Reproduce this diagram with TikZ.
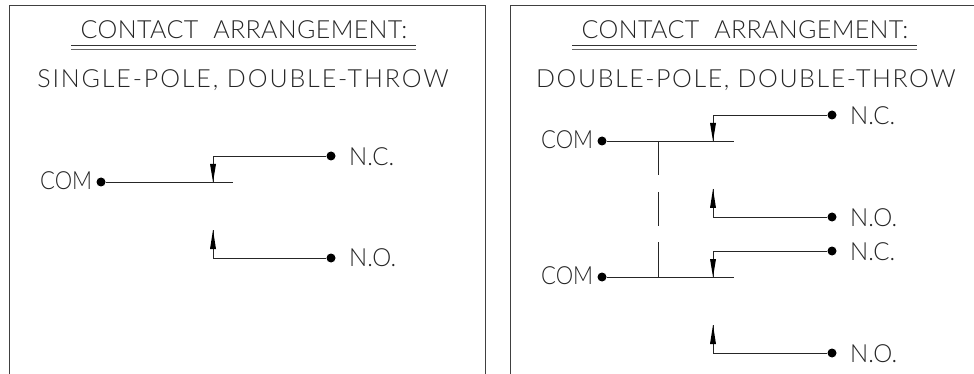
\documentclass[tikz,border=0pt]{standalone}
\usepackage{fontspec}
\setmainfont{Lato}[UprightFont=* Light]
\newcommand{\wgap}{\hspace{15pt}}
\begin{document}
\begin{tikzpicture}[x=1pt,y=-1pt,
  frameline/.style={draw=black!75,line width=0.9pt},
  wire/.style={draw=black!85,line width=0.9pt},
  rule/.style={draw=black!80,line width=0.9pt},
  thick rule/.style={draw=black!60,line width=1.6pt},
  terminal/.style={circle,fill=black,inner sep=0pt,minimum size=9pt},
  cadtext/.style={inner sep=0pt,font=\fontsize{25}{25}\selectfont\addfontfeature{LetterSpace=1.5},text=black!85},
  cadsub/.style={inner sep=0pt,font=\fontsize{25}{25}\selectfont\addfontfeature{LetterSpace=#1},text=black!85},
  cadlabel/.style={inner sep=0pt,font=\fontsize{25}{25}\selectfont\addfontfeature{FakeStretch=0.88},text=black!85},
  cadnote/.style={inner sep=0pt,font=\fontsize{25}{25}\selectfont\addfontfeature{FakeStretch=0.96},text=black!85},
  tip/.style={fill=black}]
\useasboundingbox (0,0) rectangle (974,374);
% frames
\draw[frameline] (9,374) -- (9,5) -- (485,5) -- (485,374);
\draw[frameline] (510,374) -- (510,5) -- (974,5);
% titles
\node[cadtext] (t1) at (244,30) {CONTACT\wgap ARRANGEMENT:};
\node[cadsub=7.5] (s1) at (243,80) {SINGLE-POLE, DOUBLE-THROW};
\node[cadtext] (t2) at (745,30) {CONTACT\wgap ARRANGEMENT:};
\node[cadsub=6.2] (s2) at (746,80) {DOUBLE-POLE, DOUBLE-THROW};
\draw[rule] (71,45) -- (416,45);
\draw[thick rule] (71,49.5) -- (416,49.5);
\draw[rule] (572,45) -- (917,45);
\draw[thick rule] (572,49.5) -- (917,49.5);
% left diagram
\node[terminal] (c1) at (101,182) {};
\node[terminal] (nc1) at (331,156) {};
\node[terminal] (no1) at (331,258) {};
\coordinate (e1) at (233,182);
\coordinate (v1) at (213,182);
\coordinate (k1) at (213,156);
\coordinate (n1) at (213,258);
\coordinate (a1) at (213,230);
\node[cadlabel,anchor=west] (lc1) at (40,181) {COM};
\node[cadnote,anchor=west] (ln1) at (349,157) {N.C.};
\node[cadnote,anchor=west] (lo1) at (349,258) {N.O.};
\draw[wire] (c1) -- (e1);
\draw[wire] (nc1) -- (k1) -- (v1);
\draw[wire] (no1) -- (n1) -- (a1);
\fill[tip] (v1) -- ++(-3,-18) -- ++(6,0) -- cycle;
\fill[tip] (a1) -- ++(-3,19) -- ++(6,0) -- cycle;
% right diagram
\node[terminal] (c2) at (602,141) {};
\node[terminal] (c3) at (602,277) {};
\node[terminal] (nc2) at (832,115) {};
\node[terminal] (no2) at (832,217) {};
\node[terminal] (nc3) at (832,251) {};
\node[terminal] (no3) at (832,353) {};
\node[cadlabel,anchor=west] (lc2) at (541,140) {COM};
\node[cadlabel,anchor=west] (lc3) at (541,276) {COM};
\node[cadnote,anchor=west] (ln2) at (850,116) {N.C.};
\node[cadnote,anchor=west] (lo2) at (850,218) {N.O.};
\node[cadnote,anchor=west] (ln3) at (850,252) {N.C.};
\node[cadnote,anchor=west] (lo3) at (850,354) {N.O.};
\coordinate (e2) at (734,141);
\coordinate (e3) at (734,277);
\coordinate (v2) at (713,141);
\coordinate (k2) at (713,115);
\coordinate (n2) at (713,217);
\coordinate (a2) at (713,189);
\coordinate (v3) at (713,277);
\coordinate (k3) at (713,251);
\coordinate (n3) at (713,353);
\coordinate (a3) at (713,325);
\coordinate (d1) at (658,141);
\coordinate (d2) at (658,175);
\coordinate (d3) at (658,192);
\coordinate (d4) at (658,226);
\coordinate (d5) at (658,242);
\coordinate (d6) at (658,277);
\draw[wire] (c2) -- (e2);
\draw[wire] (c3) -- (e3);
\draw[wire] (nc2) -- (k2) -- (v2);
\draw[wire] (no2) -- (n2) -- (a2);
\draw[wire] (nc3) -- (k3) -- (v3);
\draw[wire] (no3) -- (n3) -- (a3);
\draw[wire] (d1) -- (d2);
\draw[wire] (d3) -- (d4);
\draw[wire] (d5) -- (d6);
\fill[tip] (v2) -- ++(-3,-18) -- ++(6,0) -- cycle;
\fill[tip] (a2) -- ++(-3,19) -- ++(6,0) -- cycle;
\fill[tip] (v3) -- ++(-3,-18) -- ++(6,0) -- cycle;
\fill[tip] (a3) -- ++(-3,19) -- ++(6,0) -- cycle;
\end{tikzpicture}
\end{document}
